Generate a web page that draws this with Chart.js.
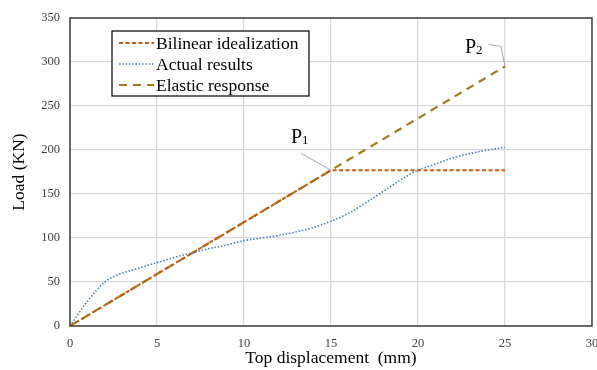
<!DOCTYPE html>
<html>
<head>
<meta charset="utf-8">
<script src="https://cdn.jsdelivr.net/npm/chart.js@4.4.1/dist/chart.umd.min.js"></script>
<style>
  html, body { margin: 0; padding: 0; background: #fff; }
  #wrap { width: 597px; height: 370px; position: relative; }
</style>
</head>
<body>
<div id="wrap"><canvas id="myChart"></canvas></div>
<script>
// data
const actualX = [0, 1, 2, 2.5, 3, 4, 5, 6, 7, 8, 9, 10, 11, 12, 13, 14, 15, 16, 17, 18, 19, 20, 21, 22, 23, 24, 25];
const actualY = [0, 28, 50, 56, 60, 66, 72, 78, 83, 88, 92, 97, 100, 103, 107, 112, 119, 128, 140, 153, 166, 177, 184, 191, 196, 200, 203];
const bilinearX = [0, 15, 25];
const bilinearY = [0, 177, 177];
const elasticX = [0, 25];
const elasticY = [0, 295];
const xTicks = [0, 5, 10, 15, 20, 25, 30];
const yTicks = [0, 50, 100, 150, 200, 250, 300, 350];

function pts(xs, ys) {
    return xs.map((x, i) => ({x: x, y: ys[i]}));
}

const ctx = document.getElementById('myChart');
const serif = '"Liberation Serif", "Times New Roman", serif';

// border round plot, legend box and P1/P2 labels
const extras = {
    id: 'extras',
    afterDraw(chart) {
        const c = chart.ctx;
        const a = chart.chartArea;
        const xs = chart.scales.x, ys = chart.scales.y;
        c.save();
        c.strokeStyle = '#404040';
        c.lineWidth = 1.5;
        c.strokeRect(a.left, a.top, a.right - a.left, a.bottom - a.top);

        // legend
        const lx = 112, ly = 31, lw = 197, lh = 65;
        c.fillStyle = '#fff';
        c.fillRect(lx, ly, lw, lh);
        c.strokeStyle = '#000';
        c.lineWidth = 1.2;
        c.strokeRect(lx, ly, lw, lh);
        c.font = '17.5px ' + serif;
        c.textBaseline = 'middle';
        chart.data.datasets.forEach((ds, i) => {
            const y = ly + 12 + i * 21;
            c.strokeStyle = ds.borderColor;
            c.lineWidth = ds.borderWidth;
            c.setLineDash(ds.borderDash);
            c.beginPath();
            c.moveTo(lx + 7, y);
            c.lineTo(lx + 42, y);
            c.stroke();
            c.setLineDash([]);
            c.fillStyle = '#000';
            c.fillText(ds.label, lx + 44, y + 1);
        });

        // P1 / P2 labels with leader lines
        const p1 = {x: xs.getPixelForValue(bilinearX[1]), y: ys.getPixelForValue(bilinearY[1])};
        const p2 = {x: xs.getPixelForValue(elasticX[1]), y: ys.getPixelForValue(elasticY[1])};
        c.strokeStyle = '#a6a6a6';
        c.lineWidth = 1;
        c.beginPath();
        c.moveTo(p1.x, p1.y);
        c.lineTo(p1.x - 30, p1.y - 17);
        c.stroke();
        c.beginPath();
        c.moveTo(p2.x, p2.y);
        c.lineTo(p2.x - 4, p2.y - 20);
        c.lineTo(p2.x - 16, p2.y - 22);
        c.stroke();
        c.fillStyle = '#000';
        c.textBaseline = 'alphabetic';
        function plabel(x, y, sub) {
            c.font = '20px ' + serif;
            c.fillText('P', x, y);
            const w = c.measureText('P').width;
            c.font = '13px ' + serif;
            c.fillText(sub, x + w, y + 1);
        }
        plabel(p1.x - 40, p1.y - 27, '1');
        plabel(p2.x - 40, p2.y - 13, '2');
        c.restore();
    }
};

new Chart(ctx, {
    type: 'line',
    data: {
        datasets: [
            {
                label: 'Bilinear idealization',
                data: pts(bilinearX, bilinearY),
                borderColor: '#c55a11',
                borderWidth: 2,
                borderDash: [4, 2.5],
                pointRadius: 0,
                tension: 0
            },
            {
                label: 'Actual results',
                data: pts(actualX, actualY),
                borderColor: '#4a7ebb',
                borderWidth: 1.6,
                borderDash: [1.5, 1.8],
                pointRadius: 0,
                cubicInterpolationMode: 'monotone'
            },
            {
                label: 'Elastic response',
                data: pts(elasticX, elasticY),
                borderColor: '#a07c1c',
                borderWidth: 2.2,
                borderDash: [8, 6],
                pointRadius: 0,
                tension: 0
            }
        ]
    },
    options: {
        responsive: true,
        maintainAspectRatio: false,
        animation: false,
        layout: { padding: { top: 18, right: 5, left: 5, bottom: 0 } },
        plugins: {
            legend: { display: false },
            tooltip: { enabled: false }
        },
        scales: {
            x: {
                type: 'linear',
                min: 0, max: 30,
                afterBuildTicks: (s) => { s.ticks = xTicks.map(v => ({value: v})); },
                afterFit: (s) => { s.height = 44; s.paddingRight = 0; s.paddingLeft = 0; },
                grid: { color: '#d9d9d9', lineWidth: 1.3, drawTicks: false },
                border: { display: false },
                ticks: { color: '#404040', font: { family: serif, size: 12.5 }, padding: 10, maxRotation: 0 },
                title: { display: true, text: 'Top displacement  (mm)', color: '#000', font: { family: serif, size: 17.5 }, padding: { top: 0, bottom: 1 } }
            },
            y: {
                min: 0, max: 350,
                afterBuildTicks: (s) => { s.ticks = yTicks.map(v => ({value: v})); },
                afterFit: (s) => { s.width = 65; s.paddingTop = 0; s.paddingBottom = 0; },
                grid: { color: '#d9d9d9', lineWidth: 1.3, drawTicks: false },
                border: { display: false },
                ticks: { color: '#404040', font: { family: serif, size: 12.5 }, padding: 10 },
                title: { display: true, text: 'Load (KN)', color: '#000', font: { family: serif, size: 17.5 }, padding: { bottom: 8 } }
            }
        }
    },
    plugins: [extras]
});
</script>
</body>
</html>
